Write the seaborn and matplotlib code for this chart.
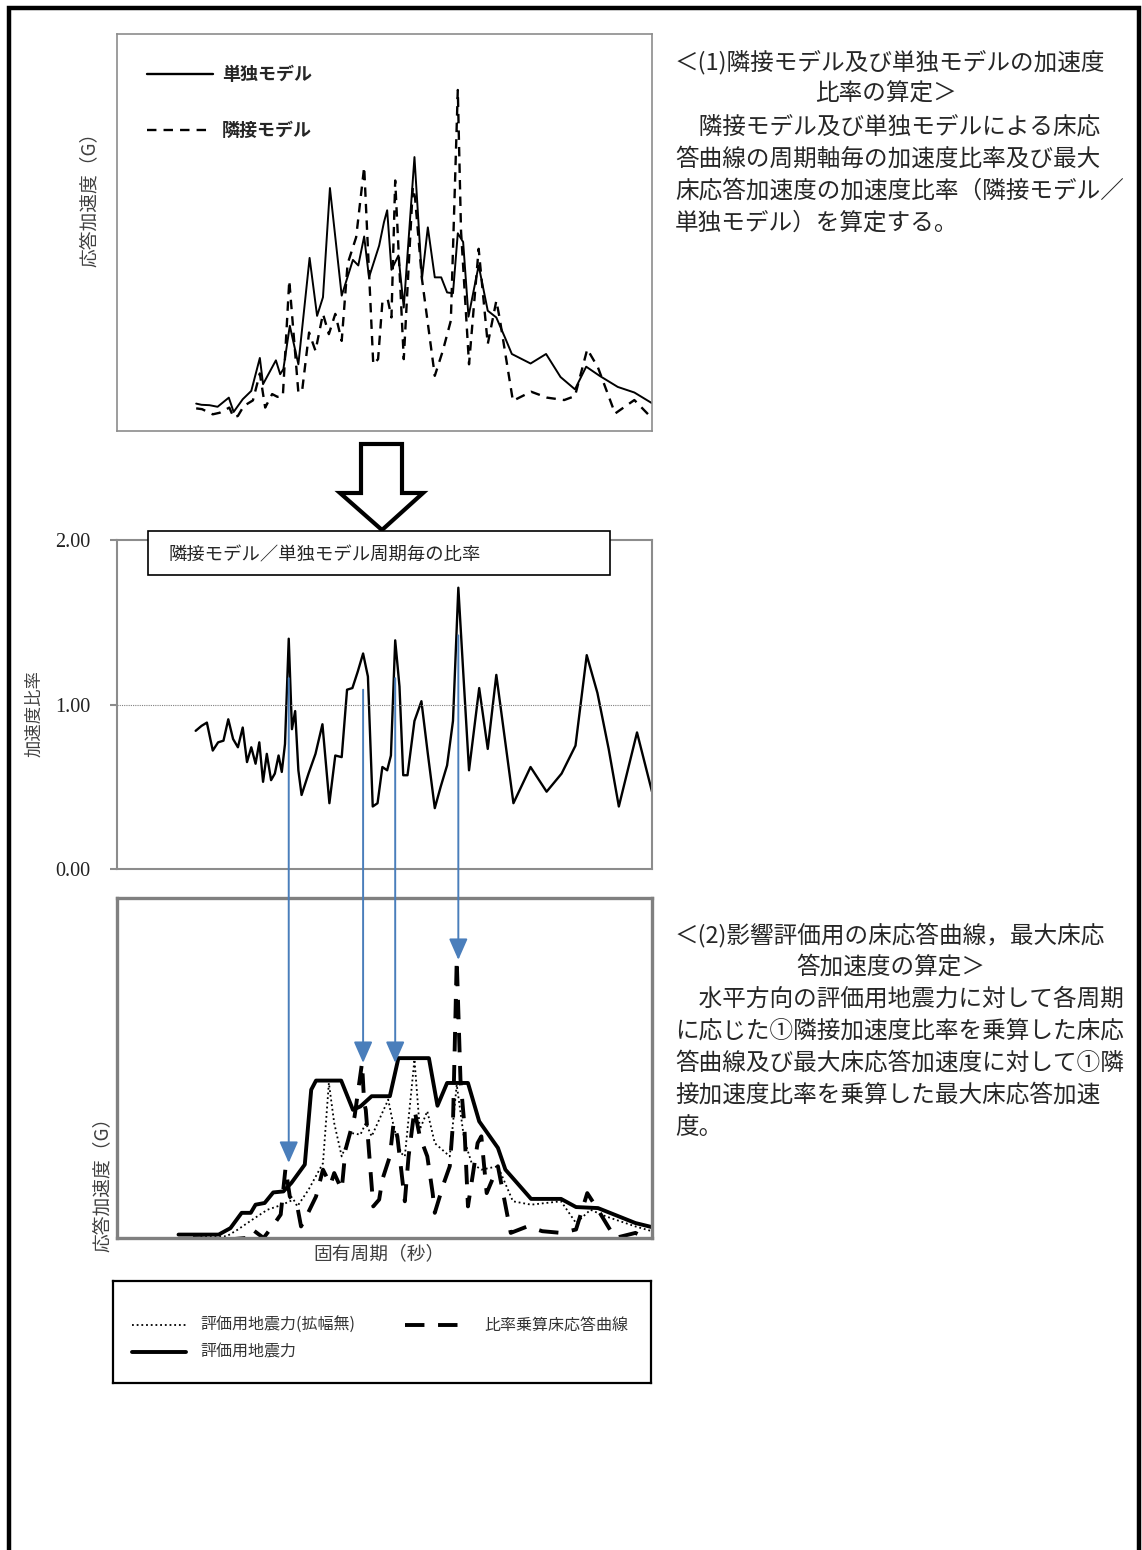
import matplotlib
matplotlib.use("Agg")
import matplotlib.pyplot as plt
import seaborn as sns
from matplotlib.patches import Rectangle, Polygon, ConnectionPatch
from matplotlib.lines import Line2D

# --- data (period axis in relative units 0-100, response in relative units) ---
single_x = [14.8, 15.8, 17.3, 18.8, 20.9, 21.8, 23.5, 25.1, 26.7, 27.3, 29.7, 30.5, 31.1, 32.3, 33.9,
            36.0, 37.4, 38.5, 39.8, 42.0, 44.1, 45.1, 46.2, 47.1, 49.0, 49.9, 50.5, 51.3, 52.6, 53.6,
            55.6, 57.0, 58.1, 59.4, 60.6, 61.7, 62.8, 63.7, 64.7, 65.7, 67.6, 69.3, 70.9, 72.5, 73.8,
            77.3, 80.2, 82.9, 85.6, 87.7, 90.2, 93.6, 96.7, 100.0]
single_y = [6.9, 6.6, 6.5, 6.1, 8.4, 4.8, 8.0, 10.1, 18.4, 11.8, 17.8, 14.3, 15.6, 26.5, 16.8,
            43.6, 29.0, 33.7, 61.2, 34.1, 43.1, 41.7, 49.0, 38.7, 46.7, 52.6, 55.6, 40.6, 44.2, 31.1,
            69.0, 38.3, 51.3, 38.7, 38.7, 34.9, 34.7, 49.8, 47.6, 28.8, 41.7, 30.3, 28.6, 23.6, 19.4,
            17.0, 19.4, 13.6, 10.5, 16.2, 13.9, 11.1, 9.7, 7.0]

adjacent_x = [14.8, 15.9, 17.9, 19.2, 21.0, 21.8, 22.6, 23.7, 25.4, 26.7, 27.7, 29.0, 30.0, 31.0, 32.2,
              33.9, 34.6, 35.9, 37.1, 38.5, 39.6, 40.8, 42.0, 43.1, 44.7, 46.2, 47.9, 48.8, 49.6, 50.6,
              51.3, 52.0, 53.6, 55.3, 55.7, 57.0, 59.4, 60.9, 62.4, 63.7, 64.3, 65.8, 67.6, 69.3, 70.9,
              71.5, 74.0, 77.4, 80.4, 83.6, 85.6, 87.9, 89.9, 93.1, 96.7, 100.0]
adjacent_y = [5.7, 5.5, 4.2, 4.6, 5.9, 3.4, 3.8, 6.3, 7.7, 14.5, 5.9, 9.3, 8.6, 8.8, 37.9,
              9.7, 10.1, 24.8, 20.2, 29.5, 24.4, 29.5, 22.7, 42.1, 48.8, 66.5, 16.8, 18.1, 32.4, 33.2,
              28.6, 63.1, 18.1, 61.4, 58.9, 38.3, 13.9, 20.2, 27.8, 85.9, 50.5, 16.8, 45.9, 21.9, 32.8,
              28.6, 7.6, 9.9, 8.4, 7.8, 8.8, 20.6, 16.0, 4.4, 7.8, 3.2]

ratio_x = [14.7, 15.8, 16.8, 17.9, 18.9, 19.9, 20.8, 21.7, 22.6, 23.5,
           24.3, 25.1, 25.9, 26.6, 27.3, 28.0, 28.8, 29.5, 30.2, 30.8,
           31.4, 32.1, 32.7, 33.3, 33.9, 34.5, 35.8, 37.1, 38.4, 39.7,
           40.8, 42.0, 43.0, 44.0, 45.0, 46.0, 46.9, 47.8, 48.7, 49.6,
           50.5, 51.2, 52.0, 52.8, 53.5, 54.3, 55.6, 56.9, 58.1, 59.4,
           60.5, 61.7, 62.8, 63.8, 64.8, 65.8, 67.7, 69.3, 70.9, 74.1,
           77.3, 80.3, 83.1, 85.7, 87.8, 89.8, 91.9, 93.8, 97.2, 100.0]
ratio_y = [0.84, 0.87, 0.89, 0.72, 0.77, 0.78, 0.91, 0.79, 0.74, 0.86,
           0.65, 0.74, 0.64, 0.77, 0.53, 0.70, 0.54, 0.58, 0.69, 0.59,
           0.76, 1.40, 0.85, 0.96, 0.60, 0.45, 0.58, 0.70, 0.88, 0.40,
           0.69, 0.68, 1.09, 1.10, 1.20, 1.31, 1.17, 0.38, 0.40, 0.62,
           0.60, 0.69, 1.39, 1.11, 0.57, 0.57, 0.90, 1.02, 0.70, 0.37,
           0.50, 0.63, 0.90, 1.71, 1.15, 0.60, 1.10, 0.73, 1.18, 0.40,
           0.62, 0.47, 0.58, 0.75, 1.30, 1.07, 0.73, 0.38, 0.83, 0.47]
ratio_ticks = [0, 1, 2]
ratio_tick_labels = ["0.00", "1.00", "2.00"]

design_x = [11.5, 19.0, 21.2, 23.3, 25.0, 25.9, 27.6, 29.2, 31.1, 32.6,
            35.1, 36.3, 37.2, 41.9, 44.1, 45.5, 47.6, 51.0, 52.6, 58.3,
            59.9, 61.7, 65.6, 67.7, 71.2, 72.6, 77.4, 83.0, 85.8, 89.9, 96.9, 100.0]
design_y = [1.0, 1.0, 2.9, 7.4, 7.4, 9.8, 10.3, 13.4, 13.7, 16.2,
            21.6, 43.6, 46.3, 46.3, 37.7, 38.7, 41.7, 41.7, 52.9, 52.9,
            38.9, 45.6, 45.6, 34.3, 26.5, 20.1, 11.5, 11.5, 9.1, 8.8, 4.4, 3.2]

base_x = [15.6, 20.5, 22.6, 25.3, 28.1, 30.9, 33.0, 33.7, 35.8, 38.5,
          39.6, 40.6, 42.0, 43.7, 45.5, 46.5, 47.6, 50.7, 51.7, 53.1,
          53.8, 55.6, 56.6, 58.0, 59.4, 62.2, 63.5, 64.9, 66.3, 68.1,
          71.2, 74.0, 77.4, 83.0, 85.8, 88.5, 91.3, 96.9, 100.0]
base_y = [0.5, 0.5, 2.5, 5.4, 8.3, 9.8, 11.3, 9.3, 14.2, 22.0,
          45.6, 33.8, 24.0, 30.9, 30.4, 33.8, 29.9, 40.7, 32.9, 25.0,
          24.0, 52.5, 31.9, 37.3, 27.9, 24.0, 45.1, 28.9, 22.0, 20.1,
          21.1, 10.8, 9.8, 10.8, 4.4, 8.3, 6.4, 3.4, 2.0]

scaled_x = [14.2, 20.5, 24.0, 25.3, 27.4, 29.5, 30.6, 31.5, 32.3, 33.7,
            34.4, 35.1, 37.2, 38.5, 39.9, 40.6, 42.0, 42.7, 44.4, 45.8,
            46.2, 46.5, 47.9, 49.0, 49.6, 51.0, 51.7, 52.4, 53.8, 54.5,
            55.6, 56.6, 58.0, 59.0, 59.4, 61.1, 62.2, 62.8, 63.5, 64.2,
            64.9, 65.6, 67.4, 68.1, 69.1, 71.2, 73.6, 76.7, 79.5, 83.0,
            85.8, 87.9, 89.9, 93.1, 96.9, 100.0]
scaled_y = [0.0, -0.5, 0.0, 2.5, 0.0, 4.4, 6.9, 20.6, 12.2, 9.3,
            3.4, 5.4, 12.2, 20.1, 15.7, 19.1, 14.2, 25.9, 35.7, 51.5,
            39.7, 37.7, 9.3, 11.3, 17.2, 24.0, 33.8, 29.9, 10.8, 24.0,
            37.7, 29.9, 24.0, 13.2, 7.4, 16.2, 21.1, 33.8, 81.9, 46.6,
            33.8, 9.3, 27.9, 29.9, 13.2, 21.1, 1.5, 3.4, 2.0, 1.5,
            2.5, 13.2, 8.3, 0.0, 1.5, -1.0]

# periods where the ratio is carried down to the floor response curve
arrow_x = [32.1, 46.0, 52.0, 63.8]
arrow_from = [1.16, 1.09, 1.16, 1.42]
arrow_to = [22.1, 51.5, 51.5, 81.8]

text1 = ["＜(1)隣接モデル及び単独モデルの加速度",
         "比率の算定＞",
         "　隣接モデル及び単独モデルによる床応",
         "答曲線の周期軸毎の加速度比率及び最大",
         "床応答加速度の加速度比率（隣接モデル／",
         "単独モデル）を算定する。"]
text2 = ["＜(2)影響評価用の床応答曲線，最大床応",
         "答加速度の算定＞",
         "　水平方向の評価用地震力に対して各周期",
         "に応じた①隣接加速度比率を乗算した床応",
         "答曲線及び最大床応答加速度に対して①隣",
         "接加速度比率を乗算した最大床応答加速",
         "度。"]

sns.set_style("white")
plt.rcParams['font.family'] = ['Noto Sans CJK JP', 'DejaVu Sans']

W, H = 1142, 1550
fig = plt.figure(figsize=(W / 100, H / 100), dpi=100)


def fx(px):
    return px / W


def fy(py):
    return 1 - py / H


def box(l, t, r, b):
    return [fx(l), fy(b), (r - l) / W, (b - t) / H]


GRAY = '#8c8c8c'
LABEL = '#404040'
BLUE = '#4A7EBB'
DASH = (0, (4, 3))
BIGDASH = (0, (5, 3.5))
DOT = (0, (1, 1.6))

ax_top = fig.add_axes(box(117, 34, 652, 431))
ax_mid = fig.add_axes(box(117, 540, 652, 869))
ax_bot = fig.add_axes(box(117, 898, 652, 1238))
ax_leg = fig.add_axes(box(113, 1281, 651, 1383))

# --- (1) single vs adjacent model ---
sns.lineplot(x=single_x, y=single_y, ax=ax_top, color='black', lw=1.4, estimator=None)
sns.lineplot(x=adjacent_x, y=adjacent_y, ax=ax_top, color='black', lw=1.7, linestyle=DASH, estimator=None)
ax_top.set(xlim=(0, 100), ylim=(0, 100), xticks=[], yticks=[])
for s in ax_top.spines.values():
    s.set_color(GRAY)
    s.set_linewidth(1.2)
ax_top.set_ylabel('応答加速度（G）', fontsize=13.5, color=LABEL)
ax_top.yaxis.set_label_coords(-0.033, 0.594)

for ypx, ls, lab in [(74, '-', '単独モデル'), (130, DASH, '隣接モデル')]:
    ya = (431 - ypx) / 397
    ax_top.add_line(Line2D([0.056, 0.179], [ya, ya], transform=ax_top.transAxes,
                           color='black', lw=1.7, linestyle=ls))
    ax_top.text(0.196, ya, lab, transform=ax_top.transAxes, va='center',
                fontsize=13, fontweight='bold')

# --- ratio per period ---
sns.lineplot(x=ratio_x, y=ratio_y, ax=ax_mid, color='black', lw=1.7, estimator=None)
ax_mid.axhline(1.0, color='#808080', lw=0.8, linestyle=(0, (1, 1)))
ax_mid.set(xlim=(0, 100), ylim=(0, 2), xticks=[])
ax_mid.set_yticks(ratio_ticks, labels=ratio_tick_labels, fontfamily='Liberation Serif')
ax_mid.tick_params(axis='y', left=True, direction='out', length=5, width=1.5,
                   color=GRAY, pad=14, labelsize=14.5, labelcolor='#222222')
for s in ax_mid.spines.values():
    s.set_color(GRAY)
    s.set_linewidth(1.5)
ax_mid.set_ylabel('加速度比率', fontsize=12.5, color=LABEL)
ax_mid.yaxis.set_label_coords(-0.137, 0.471)

fig.add_artist(Rectangle((fx(148), fy(575)), (610 - 148) / W, (575 - 531) / H,
                         transform=fig.transFigure, facecolor='white',
                         edgecolor='black', lw=1.2, zorder=5))
fig.text(fx(168), fy(555), '隣接モデル／単独モデル周期毎の比率', fontsize=13.2,
         va='center', zorder=6)

# hollow arrow between the first two panels
arrow_px = [(361, 444), (402, 444), (402, 493), (423, 493), (382, 530), (340, 493), (361, 493)]
fig.add_artist(Polygon([(fx(a), fy(b)) for a, b in arrow_px], closed=True,
                       transform=fig.transFigure, facecolor='white',
                       edgecolor='black', lw=3, joinstyle='miter', zorder=4))

# --- (2) evaluation floor response ---
sns.lineplot(x=base_x, y=base_y, ax=ax_bot, color='black', lw=1.3, linestyle=DOT, estimator=None)
sns.lineplot(x=design_x, y=design_y, ax=ax_bot, color='black', lw=2.8, estimator=None)
sns.lineplot(x=scaled_x, y=scaled_y, ax=ax_bot, color='black', lw=2.8, linestyle=BIGDASH, estimator=None)
ax_bot.set(xlim=(0, 100), ylim=(0, 100), xticks=[], yticks=[])
for s in ax_bot.spines.values():
    s.set_color('#808080')
    s.set_linewidth(2.4)
ax_bot.set_xlabel('固有周期（秒）', fontsize=13.5, color=LABEL)
ax_bot.xaxis.set_label_coords(0.49, -0.015)
ax_bot.set_ylabel('応答加速度（G）', fontsize=13.5, color=LABEL)
ax_bot.yaxis.set_label_coords(-0.008, 0.17)

for p, r0, w1 in zip(arrow_x, arrow_from, arrow_to):
    con = ConnectionPatch(xyA=(p, r0), coordsA=ax_mid.transData,
                          xyB=(p, w1), coordsB=ax_bot.transData,
                          arrowstyle='-|>,head_length=0.5,head_width=0.22',
                          mutation_scale=26, color=BLUE, lw=1.4,
                          shrinkA=0, shrinkB=0, zorder=6)
    fig.add_artist(con)

# --- legend box ---
ax_leg.set(xlim=(0, 1), ylim=(0, 1), xticks=[], yticks=[])
for s in ax_leg.spines.values():
    s.set_color('black')
    s.set_linewidth(1.6)
r1, r2 = 0.569, 0.304
ax_leg.add_line(Line2D([0.035, 0.136], [r1, r1], color='black', lw=1.3, linestyle=DOT))
ax_leg.add_line(Line2D([0.035, 0.136], [r2, r2], color='black', lw=2.8))
ax_leg.add_line(Line2D([0.543, 0.654], [r1, r1], color='black', lw=2.8, linestyle=BIGDASH))
ax_leg.text(0.162, r1, '評価用地震力(拡幅無)', va='center', fontsize=11.5, color='#333333')
ax_leg.text(0.162, r2, '評価用地震力', va='center', fontsize=11.5, color='#333333')
ax_leg.text(0.690, r1, '比率乗算床応答曲線', va='center', fontsize=11.5, color='#333333')

# --- explanatory text ---
for i, (line, ypx) in enumerate(zip(text1, [62, 94, 127, 159, 191, 223])):
    if i == 1:
        fig.text(fx(886), fy(ypx), line, fontsize=17, va='center', ha='center')
    else:
        fig.text(fx(675), fy(ypx), line, fontsize=17, va='center')
for i, (line, ypx) in enumerate(zip(text2, [935, 967, 999, 1031, 1063, 1095, 1127])):
    if i == 1:
        fig.text(fx(891), fy(ypx), line, fontsize=17, va='center', ha='center')
    else:
        fig.text(fx(675), fy(ypx), line, fontsize=17, va='center')

# outer page frame
fig.add_artist(Rectangle((fx(9), fy(1580)), (1139 - 9) / W, (1580 - 8) / H,
                         transform=fig.transFigure, fill=False,
                         edgecolor='black', lw=3.2, clip_on=False))

fig.savefig('out.png', dpi=100)
